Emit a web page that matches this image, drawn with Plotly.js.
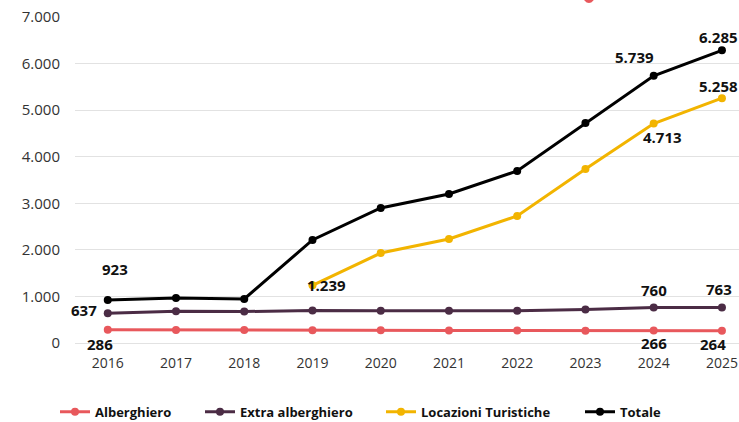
<!DOCTYPE html>
<html>
<head>
<meta charset="utf-8">
<script src="https://cdn.plot.ly/plotly-3.0.1.min.js"></script>
<style>html,body{margin:0;padding:0;background:#fff;}#chart{width:739px;height:422px;}</style>
</head>
<body>
<div id="chart"></div>
<script>
const years = [2016, 2017, 2018, 2019, 2020, 2021, 2022, 2023, 2024, 2025];
const alberghiero = [286, 280, 278, 272, 272, 270, 266, 265, 266, 264];
const extraAlberghiero = [637, 680, 675, 700, 690, 690, 695, 720, 760, 763];
const locazioniTuristiche = [null, null, null, 1239, 1932, 2233, 2727, 3736, 4713, 5258];
const totale = [923, 966, 945, 2212, 2899, 3200, 3693, 4724, 5739, 6285];
const seriesNames = ["Alberghiero", "Extra alberghiero", "Locazioni Turistiche", "Totale"];
const yTicks = [0, 1000, 2000, 3000, 4000, 5000, 6000, 7000];

const colors = ["#e8585c", "#4b2c45", "#f2b400", "#000000"];
const seriesData = [alberghiero, extraAlberghiero, locazioniTuristiche, totale];
const FONT = "Open Sans, Noto Sans, sans-serif";
const legendIds = ["legend", "legend2", "legend3", "legend4"];
const legendX = [55, 200, 381, 580];

const traces = seriesData.map((vals, i) => ({
  x: years, y: vals, name: seriesNames[i], type: "scatter", mode: "lines+markers",
  line: {color: colors[i], width: 3}, marker: {color: colors[i], size: 8},
  cliponaxis: false, connectgaps: false, legend: legendIds[i]
}));

function fmt(v) { return v.toString().replace(/\B(?=(\d{3})+(?!\d))/g, "."); }

// which points carry a value label, with offsets (pixels)
const labelSpecs = [
  [3, 0, 7, 31], [1, 0, -24, 3], [0, 0, -8, -14], [2, 3, 14, 0],
  [1, 8, 0, 18], [1, 9, -3, 18], [0, 8, 0, -12], [0, 9, -9, -13],
  [3, 8, -19, 19], [3, 9, -3, 13], [2, 9, -3, 12], [2, 8, 9, -13]
];
const annotations = labelSpecs.map(([s, k, dx, dy]) => ({
  x: years[k], y: seriesData[s][k], xref: "x", yref: "y",
  text: "<b>" + fmt(seriesData[s][k]) + "</b>", showarrow: false,
  xshift: dx, yshift: dy, font: {family: FONT, size: 15, color: "#111"}
}));

const layout = {
  width: 739, height: 422,
  margin: {l: 75, r: 0, t: 17, b: 79},
  paper_bgcolor: "#fff", plot_bgcolor: "#fff",
  separators: ",.",
  font: {family: FONT, size: 14, color: "#333"},
  showlegend: true,
  xaxis: {range: [2015.52, 2025.25], tickvals: years, ticktext: years.map(String),
    showgrid: false, zeroline: false, showline: false, ticks: "", ticklabelstandoff: 10,
    tickfont: {family: FONT, size: 14, color: "#333"}},
  yaxis: {range: [0, 7000], tickvals: yTicks, tickformat: ",d",
    showgrid: true, gridcolor: "#e2e2e2", gridwidth: 1, zeroline: true, zerolinecolor: "#e2e2e2",
    showline: false, ticks: "", ticklabelstandoff: 14,
    tickfont: {family: FONT, size: 15, color: "#333"}},
  annotations: annotations,
  shapes: [{type: "circle", xref: "paper", yref: "paper", x0: 0.765, x1: 0.783, y0: 1.043, y1: 1.09,
    fillcolor: "#e8585c", line: {width: 0}}]
};
legendIds.forEach((id, i) => {
  layout[id] = {orientation: "h", xref: "container", yref: "container",
    x: legendX[i] / 739, xanchor: "left", y: 0.024, yanchor: "middle",
    font: {family: FONT, size: 13, color: "#111", weight: "bold"}, itemwidth: 30,
    bgcolor: "rgba(0,0,0,0)"};
});

Plotly.newPlot("chart", traces, layout, {displayModeBar: false, staticPlot: true});
</script>
</body>
</html>
